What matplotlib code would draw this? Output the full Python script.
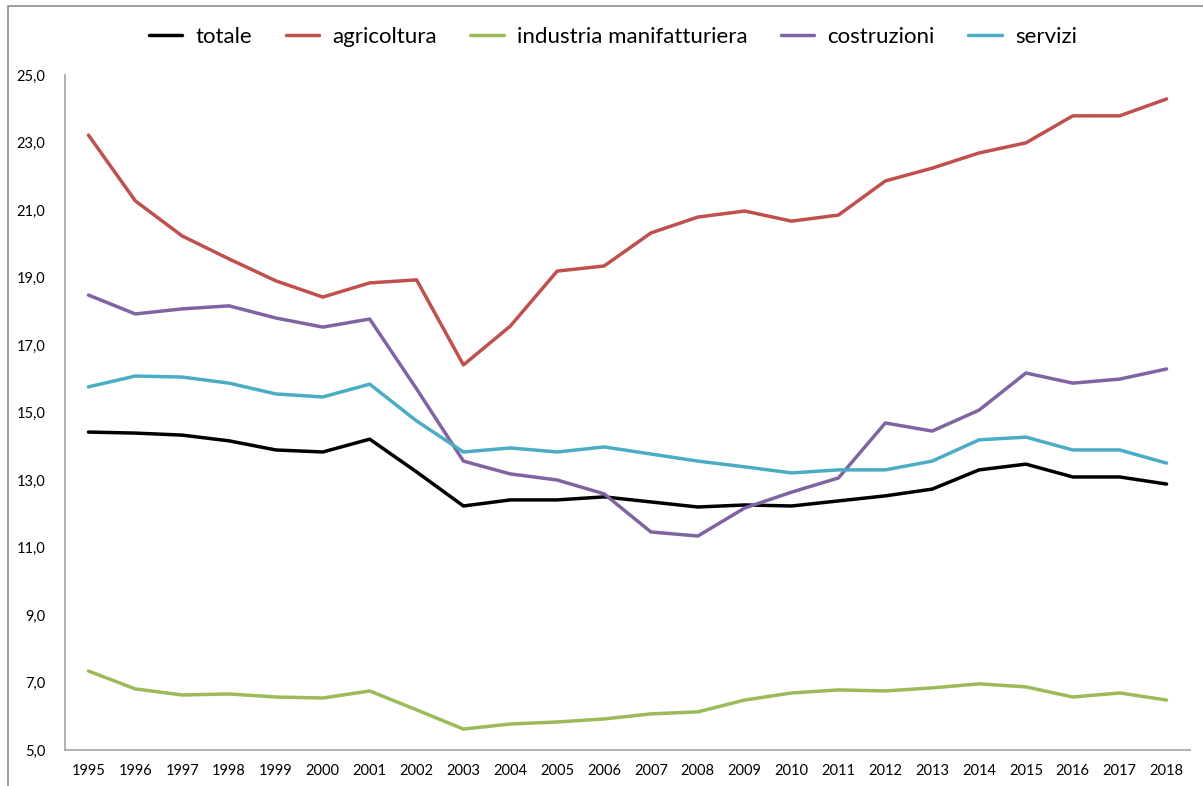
import matplotlib.pyplot as plt
from matplotlib.patches import Rectangle

years = [str(y) for y in range(1995, 2019)]

totale = [14.42, 14.39, 14.33, 14.16, 13.89, 13.83, 14.21, 13.24, 12.23, 12.41, 12.41, 12.50,
          12.35, 12.20, 12.26, 12.23, 12.38, 12.53, 12.73, 13.30, 13.47, 13.09, 13.09, 12.88]
agricoltura = [23.22, 21.27, 20.23, 19.55, 18.90, 18.42, 18.84, 18.93, 16.41, 17.56, 19.19, 19.34,
               20.32, 20.79, 20.97, 20.67, 20.85, 21.86, 22.24, 22.69, 22.99, 23.79, 23.79, 24.29]
industria = [7.34, 6.81, 6.63, 6.66, 6.57, 6.54, 6.75, 6.19, 5.62, 5.77, 5.83, 5.92,
             6.07, 6.13, 6.48, 6.69, 6.78, 6.75, 6.84, 6.96, 6.87, 6.57, 6.69, 6.48]
costruzioni = [18.48, 17.92, 18.07, 18.16, 17.80, 17.53, 17.77, 15.70, 13.56, 13.18, 13.00, 12.59,
               11.46, 11.34, 12.17, 12.64, 13.06, 14.69, 14.45, 15.07, 16.17, 15.87, 15.99, 16.29]
servizi = [15.76, 16.08, 16.05, 15.87, 15.55, 15.46, 15.84, 14.75, 13.83, 13.95, 13.83, 13.98,
           13.77, 13.56, 13.39, 13.21, 13.30, 13.30, 13.56, 14.19, 14.27, 13.89, 13.89, 13.50]

series = [
    ("totale", totale, "#000000"),
    ("agricoltura", agricoltura, "#C0504D"),
    ("industria manifatturiera", industria, "#9BBB59"),
    ("costruzioni", costruzioni, "#8064A2"),
    ("servizi", servizi, "#4BACC6"),
]

yticks = [5, 7, 9, 11, 13, 15, 17, 19, 21, 23, 25]

plt.rcParams['font.family'] = ['Lato', 'DejaVu Sans']

W, H = 1203, 786
fig = plt.figure(figsize=(W / 100, H / 100), dpi=100)
ax = fig.add_axes([65 / W, 36 / H, 1125 / W, 675 / H])

x = list(range(len(years)))
for name, vals, col in series:
    ax.plot(x, vals, color=col, linewidth=2.5, label=name, solid_capstyle='round')

ax.set_xlim(-0.5, len(years) - 0.5)
ax.set_ylim(5, 25)
ax.set_xticks(x)
ax.set_xticklabels(years, fontsize=10.5)
ax.set_yticks(yticks)
ax.set_yticklabels([f"{v:.1f}".replace('.', ',') for v in yticks], fontsize=10.5)
ax.tick_params(length=0, pad=10)
ax.tick_params(axis='y', pad=14)

for s in ['top', 'right']:
    ax.spines[s].set_visible(False)
for s in ['left', 'bottom']:
    ax.spines[s].set_color('#A6A6A6')
    ax.spines[s].set_linewidth(1.2)

fig.legend(loc='center', bbox_to_anchor=(613 / W, 1 - 37 / H), ncol=5, frameon=False,
           fontsize=16, handlelength=1.5, columnspacing=1.5, handletextpad=0.6)

# chart area border
fig.patches.append(Rectangle((8 / W, -0.5), 2, 1.5 - 6 / H, transform=fig.transFigure,
                             fill=False, edgecolor='#8C8C8C', linewidth=1.2))

fig.savefig('out.png', dpi=100)
